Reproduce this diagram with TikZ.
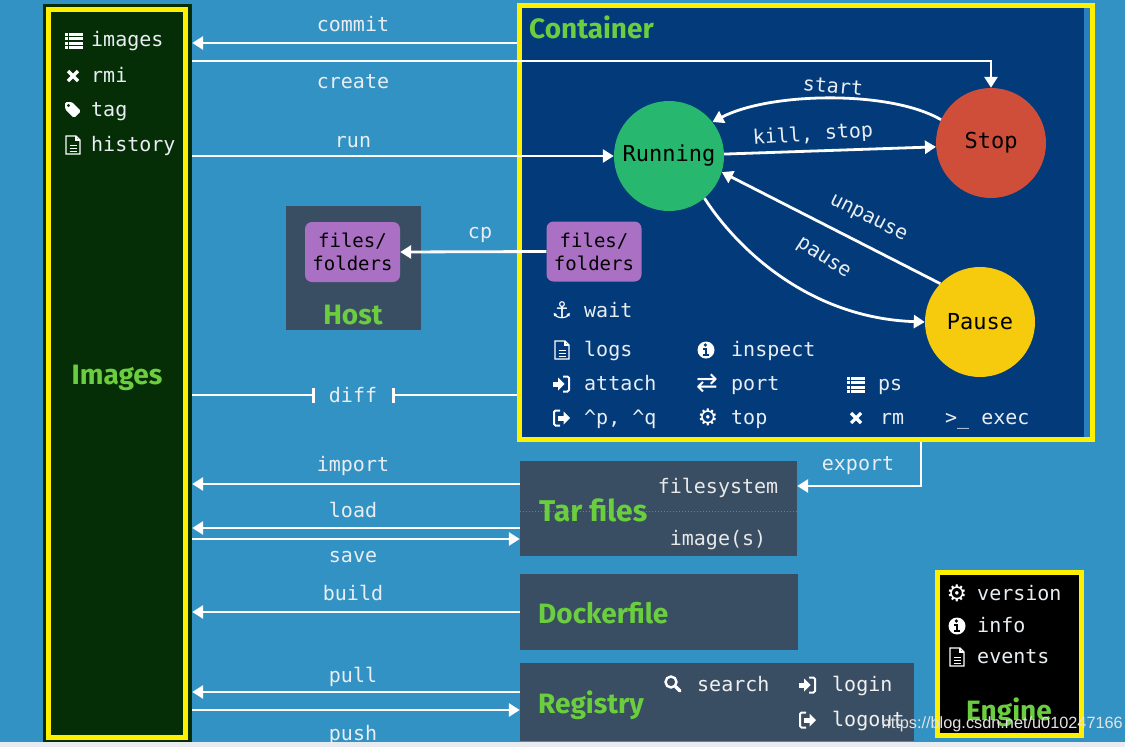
\documentclass[tikz,border=0pt]{standalone}
\usepackage{fontspec}
\setmonofont{DejaVu Sans Mono}
\newfontfamily\headfont{Fira Sans}
\newfontfamily\symfont{DejaVu Sans}
\newfontfamily\wmfont{Liberation Sans}
\usetikzlibrary{arrows.meta}
\definecolor{bgblue}{RGB}{51,146,196}
\definecolor{midblue}{RGB}{40,128,190}
\definecolor{imgdark}{RGB}{5,46,7}
\definecolor{navy}{RGB}{3,58,122}
\definecolor{slate}{RGB}{58,78,99}
\definecolor{purp}{RGB}{170,112,196}
\definecolor{hgreen}{RGB}{106,206,62}
\definecolor{runcol}{RGB}{40,183,110}
\definecolor{stopcol}{RGB}{206,78,58}
\definecolor{pausecol}{RGB}{246,203,14}
\definecolor{ybord}{RGB}{255,240,0}
\definecolor{stripgray}{RGB}{232,236,240}
\definecolor{softwhite}{RGB}{232,238,242}
\definecolor{dotgray}{RGB}{110,125,140}
\tikzset{
  lblst/.style={font=\ttfamily\fontsize{20}{20}\selectfont, text=softwhite, inner sep=0pt, anchor=base},
  cmdst/.style={font=\ttfamily\fontsize{20}{20}\selectfont, text=softwhite, anchor=base west, inner sep=0pt},
  headst/.style={font=\headfont\bfseries\fontsize{28}{28}\selectfont, text=hgreen, inner sep=0pt},
  conn/.style={draw=white, line width=2.8pt, -{Triangle[length=11pt,width=13pt]}},
  wline/.style={draw=white, line width=2.8pt},
  stnode/.style={circle, minimum size=110pt, inner sep=0pt, font=\ttfamily\fontsize{22}{22}\selectfont, text=black},
  slatebox/.style={rectangle, fill=slate, inner sep=0pt},
  filebox/.style={rectangle, rounded corners=7pt, fill=purp, inner sep=0pt, minimum width=95pt, minimum height=60pt, align=center, font=\ttfamily\fontsize{19}{23}\selectfont, text=black},
  symst/.style={font=\symfont\fontsize{23}{23}\selectfont, text=white, inner sep=0pt},
  pics/listicon/.style={code={
    \foreach \i in {0,1,2,3} {
      \fill[white] (-9,-7.5+4.5*\i) rectangle (-6.5,-4.5+4.5*\i);
      \fill[white] (-5,-7.5+4.5*\i) rectangle (9,-4.5+4.5*\i);
    }}},
  pics/crossicon/.style={code={
    \draw[white, line width=3.2pt] (-5,-5) -- (5,5) (-5,5) -- (5,-5);}},
  pics/tagicon/.style={code={
    \fill[white, even odd rule, rounded corners=1.5pt] (-8,-8) -- (-1,-8) -- (8,1) -- (1,8) -- (-8,-1) -- cycle (-4.5,-4.5) circle (1.8);}},
  pics/docicon/.style={code={
    \draw[white, line width=1.1pt] (-7,-9) -- (3,-9) -- (7,-5) -- (7,9) -- (-7,9) -- cycle;
    \draw[white, line width=1.1pt] (3,-9) -- (3,-5) -- (7,-5);
    \draw[white, line width=1pt] (-3.5,0) -- (3.5,0) (-3.5,3) -- (3.5,3) (-3.5,6) -- (3.5,6);}},
  pics/infoicon/.style={code={
    \fill[white] (0,0) circle (8.5);
    \fill[#1] (-0.6,-5) circle (1.8);
    \fill[#1] (-2.8,-1.8) rectangle (1.4,-0.4);
    \fill[#1] (-1.4,-1.8) rectangle (1.4,4.5);
    \fill[#1] (-3,4) rectangle (3.4,5.6);}},
  pics/signin/.style={code={
    \fill[white] (-9,-2.5) rectangle (-3,2.5);
    \fill[white] (-4,-6.5) -- (2.5,0) -- (-4,6.5) -- cycle;
    \draw[white, line width=2pt, rounded corners=1.5pt] (1,-7.5) -- (7,-7.5) -- (7,7.5) -- (1,7.5);}},
  pics/signout/.style={code={
    \draw[white, line width=2pt, rounded corners=1.5pt] (-2,-7.5) -- (-8,-7.5) -- (-8,7.5) -- (-2,7.5);
    \fill[white] (-4,-2.5) rectangle (2,2.5);
    \fill[white] (1.5,-6.5) -- (8,0) -- (1.5,6.5) -- cycle;}},
  pics/searchicon/.style={code={
    \draw[white, line width=2.4pt] (-2,-2) circle (5.5);
    \draw[white, line width=3.2pt, line cap=round] (2.5,2.5) -- (7,7);}},
}
\begin{document}
\begin{tikzpicture}[x=1pt,y=-1pt]
\useasboundingbox (0,0) rectangle (1125,747);
\fill[bgblue] (0,0) rectangle (1125,742);
\fill[stripgray] (0,742) rectangle (1125,747);

% ---------- Images panel ----------
\node[rectangle, fill=imgdark, inner sep=0pt, minimum width=149pt, minimum height=738pt] (imgs) at (117.5,373) {};
\draw[ybord, line width=5pt] (48.5,9) rectangle (185,737.5);
\node[headst, anchor=base] (imgtitle) at (117,384) {Images};
\pic at (74,40) {listicon};
\node[cmdst] (timages) at (91,46) {images};
\pic at (73,76) {crossicon};
\node[cmdst] (trmi) at (91,82) {rmi};
\pic at (73,110) {tagicon};
\node[cmdst] (ttag) at (91,116) {tag};
\pic at (73,145) {docicon};
\node[cmdst] (thistory) at (91,151) {history};

% ---------- Container panel ----------
\fill[navy] (519,5) rectangle (1084,440);
\fill[midblue] (1084,5) rectangle (1091,440);
\node[rectangle, draw=ybord, line width=5pt, inner sep=0pt, minimum width=573pt, minimum height=434pt] (cont) at (806,222.5) {};
\node[headst, anchor=base west] (conttitle) at (529,38) {Container};

\node[stnode, fill=runcol] (runc) at (669,156) {Running};
\node[stnode, fill=stopcol] (stopc) at (991,143) {Stop};
\node[stnode, fill=pausecol] (pausec) at (980,322) {Pause};

\node[filebox] (cfiles) at (594,251.5) {files/\\folders};

\node[symst] (ianchor) at (562,310) {⚓};
\node[cmdst] (twait) at (584,317) {wait};
\pic at (562,350) {docicon};
\node[cmdst] (tlogs) at (584,356) {logs};
\pic at (562,384) {signin};
\node[cmdst] (tattach) at (584,390) {attach};
\pic at (562,418) {signout};
\node[cmdst] (tpq) at (584,424) {\textasciicircum p, \textasciicircum q};
\pic at (706,350) {infoicon=navy};
\node[cmdst] (tinspect) at (731,356) {inspect};
\node[symst, font=\symfont\fontsize{26}{26}\selectfont] (iport) at (707,383) {⇄};
\node[cmdst] (tport) at (731,390) {port};
\node[symst] (itop) at (708,417) {⚙};
\node[cmdst] (ttop) at (731,424) {top};
\pic at (856,384) {listicon};
\node[cmdst] (tps) at (878,390) {ps};
\pic at (856,418) {crossicon};
\node[cmdst] (trm) at (880,424) {rm};
\node[cmdst] (texec) at (945,424) {>\_ exec};

% ---------- Host ----------
\node[slatebox, minimum width=135pt, minimum height=124pt] (host) at (353.5,268) {};
\node[filebox] (hfiles) at (352.5,252) {files/\\folders};
\node[headst, anchor=base] (hosttitle) at (353,324) {Host};

% ---------- Tar files / Dockerfile / Registry ----------
\node[slatebox, minimum width=277pt, minimum height=95pt] (tar) at (658.5,508.5) {};
\draw[dotgray, dotted, line width=1pt] (tar.west |- 0,511) -- (tar.east |- 0,511);
\node[headst, anchor=base west, font=\headfont\bfseries\fontsize{30}{30}\selectfont] (tartitle) at (539,521) {Tar files};
\node[lblst, text=white!82!gray] (tfs) at (718,493) {filesystem};
\node[lblst, text=white!82!gray] (timgs) at (718,545) {image(s)};

\node[slatebox, minimum width=278pt, minimum height=76pt] (docker) at (659,612) {};
\node[headst, anchor=base west] (dockertitle) at (538,623) {Dockerfile};

\node[slatebox, minimum width=394pt, minimum height=78pt] (reg) at (717,702) {};
\node[headst, anchor=base west] (regtitle) at (538,713) {Registry};
\pic at (673,684) {searchicon};
\node[cmdst, text=white!88!gray] (tsearch) at (697,691) {search};
\pic at (808,685) {signin};
\node[cmdst, text=white!88!gray] (tlogin) at (832,691) {login};
\pic at (808,720) {signout};
\node[cmdst, text=white!88!gray] (tlogout) at (832,726) {logout};

% ---------- Engine ----------
\node[rectangle, fill=black, draw=ybord, line width=5pt, inner sep=0pt, minimum width=144pt, minimum height=163pt] (eng) at (1009.5,654) {};
\node[symst] (iversion) at (957,593) {⚙};
\node[cmdst] (tversion) at (977,600) {version};
\pic at (957,626) {infoicon=black};
\node[cmdst] (tinfo) at (977,632) {info};
\pic at (957,657) {docicon};
\node[cmdst] (tevents) at (977,663) {events};
\node[headst, anchor=base] (engtitle) at (1009,720) {Engine};

% ---------- connectors ----------
\coordinate (createturn) at (stopc.north |- 0,61);
\coordinate (expturn) at (921,486);
\coordinate (diffL) at (315,395);
\coordinate (diffR) at (392,395);

\draw[conn] (cont.west |- 0,43) -- (imgs.east |- 0,43);
\node[lblst] (lcommit) at (353,31) {commit};
\draw[conn] (imgs.east |- 0,61) -- (createturn) -- (stopc.north);
\node[lblst] (lcreate) at (353,88) {create};
\draw[conn] (imgs.east |- runc.west) -- (runc.west);
\node[lblst] (lrun) at (353,147) {run};

\draw[conn] (stopc.155) .. controls (890,90) and (770,92) .. (runc.38);
\node[lblst, anchor=center, rotate=-5] (lstart) at (833,86) {start};
\draw[conn] (runc.2) -- (stopc.184);
\node[lblst, anchor=center, rotate=4] (lkill) at (813,135) {kill, stop};
\draw[conn] (pausec.136) -- (runc.-17);
\node[lblst, anchor=center, rotate=-27] (lunpause) at (868,219) {unpause};
\draw[conn] (runc.-50) .. controls (738,250) and (810,318) .. (pausec.west);
\node[lblst, anchor=center, rotate=-33] (lpause) at (823,259) {pause};

\draw[conn] (cfiles.west) -- (hfiles.east);
\node[lblst] (lcp) at (480,238) {cp};

\draw[wline, -{Bar[width=15pt]}] (imgs.east |- diffL) -- (diffL);
\draw[wline, {Bar[width=15pt]}-] (diffR) -- (cont.west |- diffR);
\node[lblst] (ldiff) at (353,402) {diff};

\draw[conn] (cont.south -| expturn) -- (expturn) -- (tar.east |- expturn);
\node[lblst] (lexport) at (858,470) {export};

\draw[conn] (tar.west |- 0,484) -- (imgs.east |- 0,484);
\node[lblst] (limport) at (353,471) {import};
\draw[conn] (tar.west |- 0,528) -- (imgs.east |- 0,528);
\node[lblst] (lload) at (353,517) {load};
\draw[conn] (imgs.east |- 0,539) -- (tar.west |- 0,539);
\node[lblst] (lsave) at (353,562) {save};
\draw[conn] (docker.west) -- (imgs.east |- docker.west);
\node[lblst] (lbuild) at (353,600) {build};
\draw[conn] (reg.west |- 0,692) -- (imgs.east |- 0,692);
\node[lblst] (lpull) at (353,682) {pull};
\draw[conn] (imgs.east |- 0,710) -- (reg.west |- 0,710);
\node[lblst] (lpush) at (353,740) {push};

% watermark
\node[font=\wmfont\fontsize{16.3}{16.3}\selectfont, text=white!78!gray, anchor=base east, inner sep=0pt] (wm) at (1123,728) {https://blog.csdn.net/u010247166};
\end{tikzpicture}
\end{document}
